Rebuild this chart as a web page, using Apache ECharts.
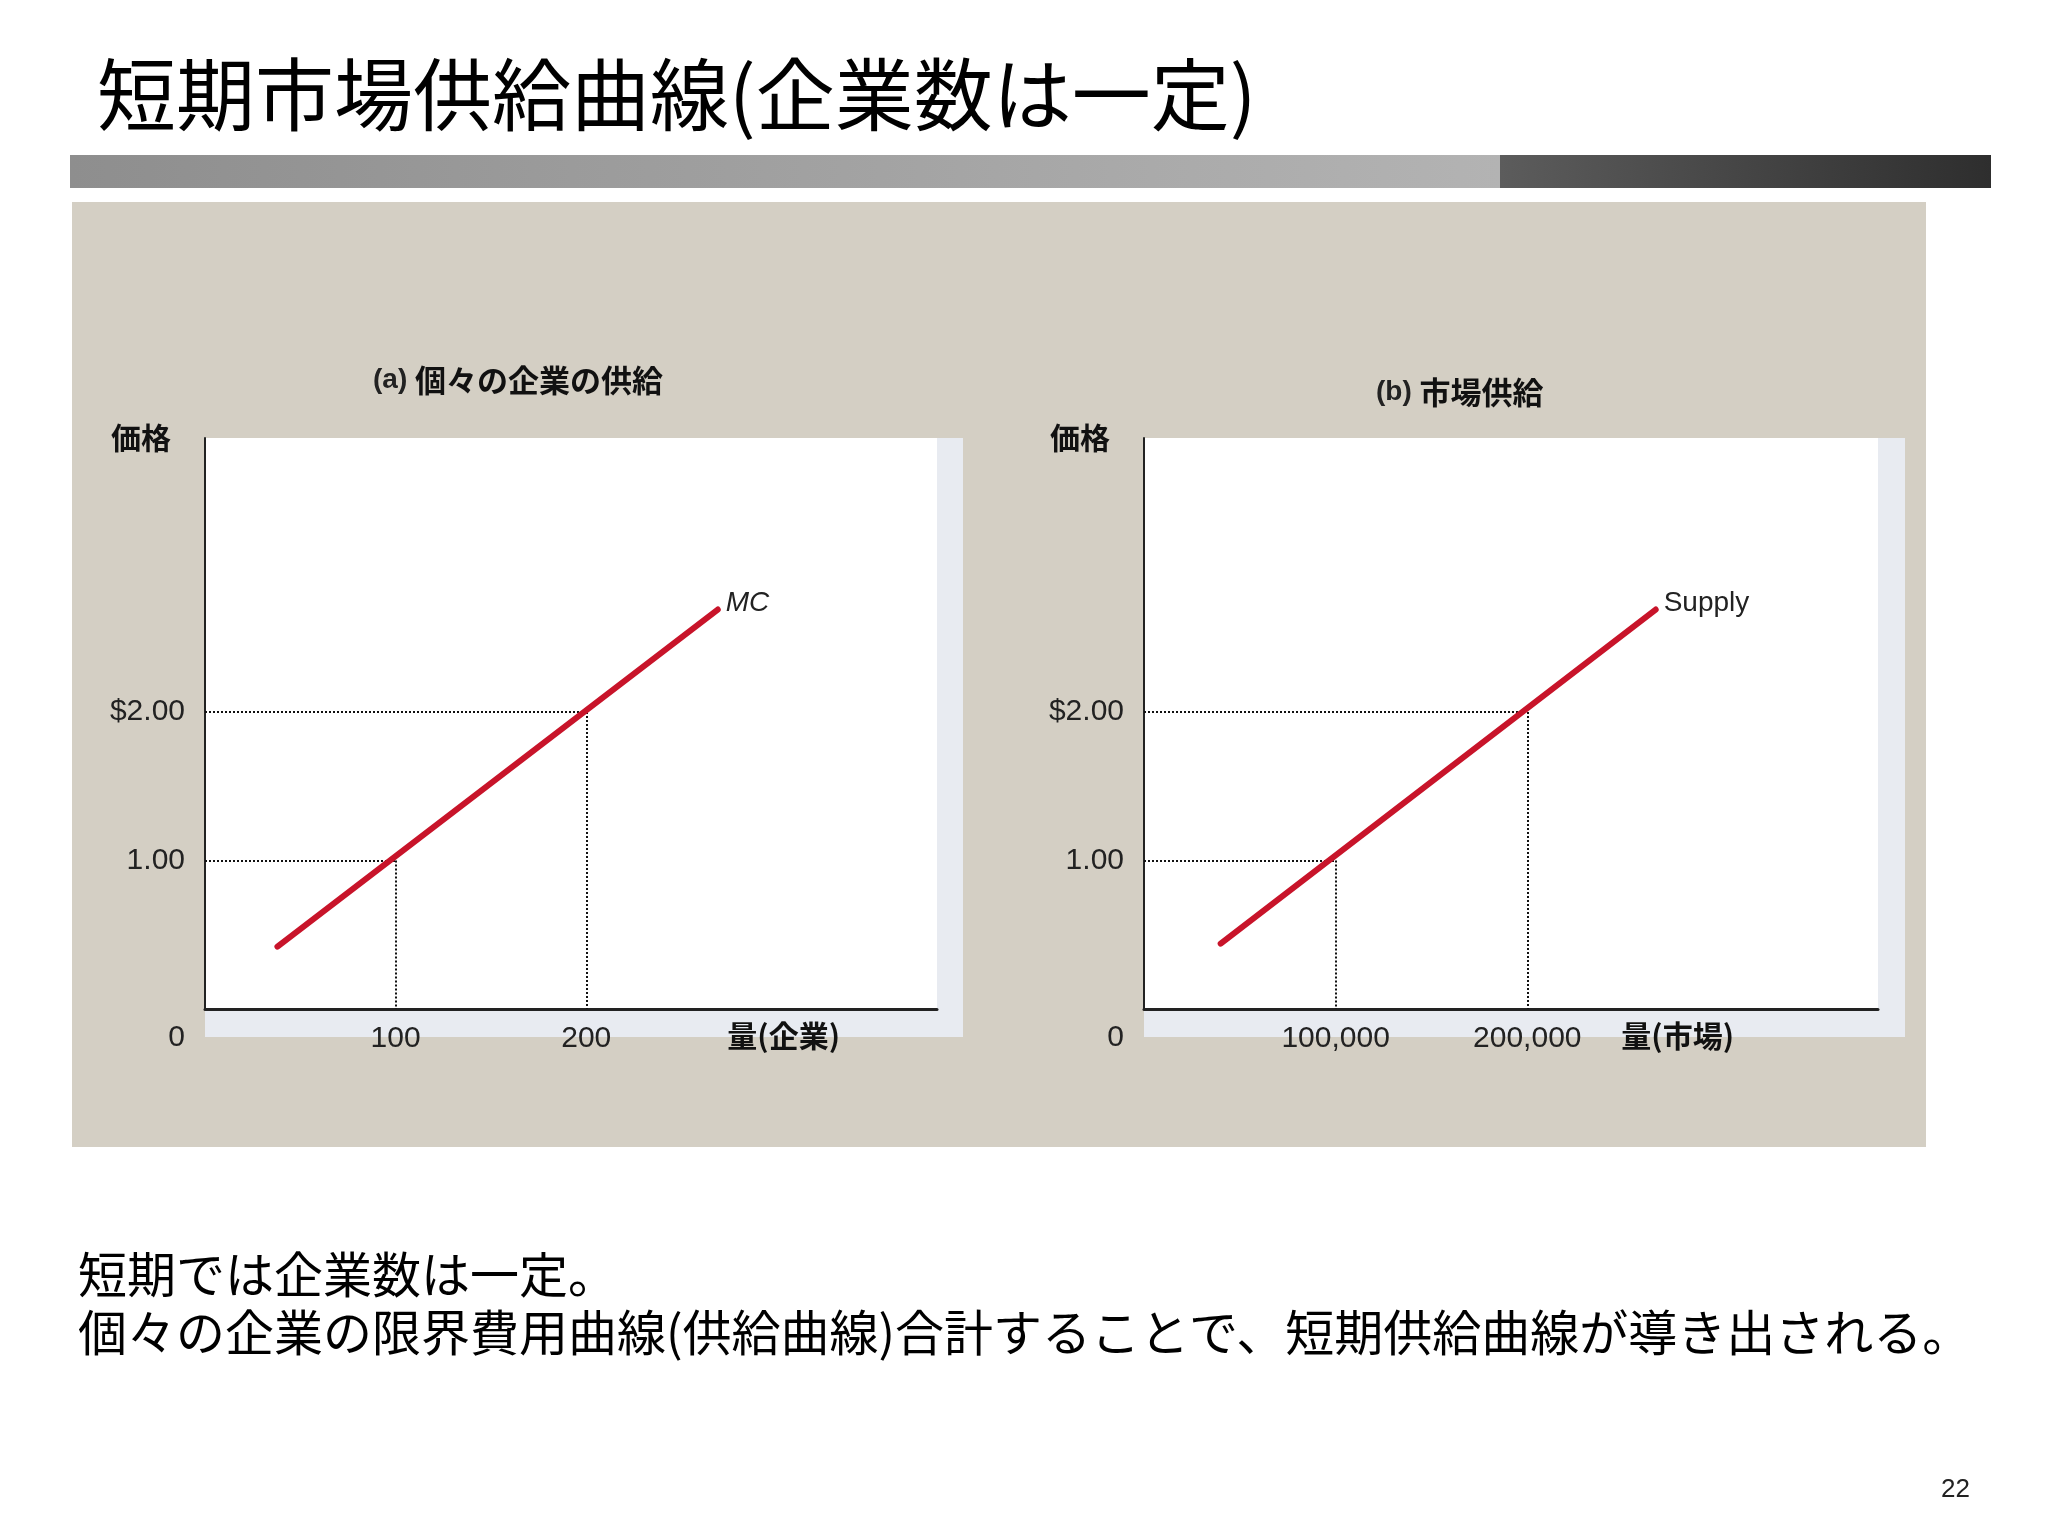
<!DOCTYPE html>
<html>
<head>
<meta charset="utf-8">
<script src="https://cdn.jsdelivr.net/npm/echarts@6/dist/echarts.min.js"></script>
<style>
  html, body { margin: 0; padding: 0; background: #fff; }
  #main { width: 2048px; height: 1536px; }
</style>
</head>
<body>
<div id="main"></div>
<script>
// (a) 個々の企業 — MC curve end points
var mcQty = [38, 269];
var mcPrice = [0.42, 2.69];
// (b) 市場 — supply curve end points
var supplyQty = [40000, 267000];
var supplyPrice = [0.44, 2.69];

// dotted guide points
var guidePrice = [1, 2];
var guideQtyA = [100, 200];
var guideQtyB = [100000, 200000];

// tick labels
var yTicks = [0, 1, 2];
var yTickLabels = ['0', '1.00', '$2.00'];
var xTickLabelsA = ['100', '200'];
var xTickLabelsB = ['100,000', '200,000'];

var jp = 'Noto Sans CJK JP';
var num = 'Liberation Sans';

function pairs(xs, ys) {
    return xs.map(function (x, i) { return [x, ys[i]]; });
}

function guideLines(qs) {
    var out = [];
    qs.forEach(function (q, i) {
        var p = guidePrice[i];
        out.push([{ coord: [0, p] }, { coord: [q, p] }]);
        out.push([{ coord: [q, p] }, { coord: [q, 0] }]);
    });
    return out;
}

function yAxisFor(gridIndex) {
    return {
        gridIndex: gridIndex,
        type: 'value',
        min: 0,
        max: 3.845,
        interval: 1,
        name: '価格',
        nameLocation: 'end',
        nameGap: 0,
        nameTextStyle: {
            fontFamily: jp, fontWeight: 'bold', fontSize: 30, color: '#111',
            align: 'right', verticalAlign: 'middle', padding: [6, 34, 0, 0]
        },
        axisLine: { show: true, lineStyle: { color: '#222', width: 2 } },
        axisTick: { show: false },
        splitLine: { show: false },
        axisLabel: {
            margin: 20,
            fontFamily: num, fontSize: 30, color: '#222',
            formatter: function (v) {
                var i = yTicks.indexOf(v);
                if (i < 0) return '';
                return i === 0 ? '{z|' + yTickLabels[0] + '}' : yTickLabels[i];
            },
            rich: { z: { fontFamily: num, fontSize: 30, color: '#222', padding: [58, 0, 0, 0] } }
        }
    };
}

function xAxisFor(gridIndex, max, step, qs, labels, name, gap) {
    return {
        gridIndex: gridIndex,
        type: 'value',
        min: 0,
        max: max,
        interval: step,
        name: name,
        nameLocation: 'end',
        nameGap: gap,
        nameTextStyle: {
            fontFamily: jp, fontWeight: 'bold', fontSize: 30, color: '#111',
            align: 'right', verticalAlign: 'top', padding: [12, 0, 0, 0]
        },
        axisLine: { show: true, onZero: false, lineStyle: { color: '#222', width: 3 } },
        axisTick: { show: false },
        splitLine: { show: false },
        axisLabel: {
            margin: 15,
            fontFamily: num, fontSize: 30, color: '#222',
            formatter: function (v) {
                var i = qs.indexOf(v);
                return i < 0 ? '' : labels[i];
            }
        }
    };
}

function curve(idx, data, label) {
    return {
        type: 'line',
        xAxisIndex: idx,
        yAxisIndex: idx,
        data: data,
        symbol: 'none',
        z: 5,
        lineStyle: { color: '#c8142a', width: 6, cap: 'round' },
        endLabel: {
            show: true,
            formatter: label,
            fontFamily: num,
            fontSize: 28,
            fontStyle: idx === 0 ? 'italic' : 'normal',
            color: '#222',
            offset: [0, -6]
        },
        animation: false
    };
}

function guides(idx, qs) {
    return {
        type: 'line',
        xAxisIndex: idx,
        yAxisIndex: idx,
        data: [],
        z: 2,
        markLine: {
            silent: true,
            symbol: 'none',
            label: { show: false },
            lineStyle: { color: '#111', type: 'dotted', width: 2 },
            data: guideLines(qs)
        },
        animation: false
    };
}

var chart = echarts.init(document.getElementById('main'));

var option = {
    backgroundColor: '#fff',
    animation: false,
    title: [{
        text: '短期市場供給曲線(企業数は一定)',
        left: 92,
        top: 50,
        textStyle: { fontFamily: jp, fontSize: 79, fontWeight: 'normal', color: '#000' }
    }, {
        text: '{r|(a) }{b|個々の企業の供給}',
        left: 368,
        top: 360,
        textStyle: {
            rich: {
                r: { fontFamily: num, fontSize: 28, color: '#222' },
                b: { fontFamily: jp, fontSize: 31, fontWeight: 'bold', color: '#111' }
            }
        }
    }, {
        text: '{r|(b) }{b|市場供給}',
        left: 1371,
        top: 372,
        textStyle: {
            rich: {
                r: { fontFamily: num, fontSize: 28, color: '#222' },
                b: { fontFamily: jp, fontSize: 31, fontWeight: 'bold', color: '#111' }
            }
        }
    }],
    graphic: [
        {
            type: 'rect', z: -100,
            shape: { x: 70, y: 155, width: 1430, height: 33 },
            style: { fill: new echarts.graphic.LinearGradient(0, 0, 1, 0, [
                { offset: 0, color: '#8e8e8e' }, { offset: 1, color: '#b3b3b3' }]) }
        },
        {
            type: 'rect', z: -100,
            shape: { x: 1500, y: 155, width: 491, height: 33 },
            style: { fill: new echarts.graphic.LinearGradient(0, 0, 1, 0, [
                { offset: 0, color: '#5c5c5c' }, { offset: 1, color: '#2e2e2e' }]) }
        },
        {
            type: 'rect', z: -100,
            shape: { x: 72, y: 202, width: 1854, height: 945 },
            style: { fill: '#d4cfc4' }
        },
        {
            type: 'rect', z: -99,
            shape: { x: 205, y: 438, width: 758, height: 599 },
            style: { fill: '#e8ebf1' }
        },
        {
            type: 'rect', z: -99,
            shape: { x: 1144, y: 438, width: 761, height: 599 },
            style: { fill: '#e8ebf1' }
        },
        {
            type: 'text', left: 78, top: 1250,
            style: { text: '短期では企業数は一定。', font: '49px "Noto Sans CJK JP"', fill: '#000' }
        },
        {
            type: 'text', left: 78, top: 1308,
            style: { text: '個々の企業の限界費用曲線(供給曲線)合計することで、短期供給曲線が導き出される。',
                font: '49px "Noto Sans CJK JP"', fill: '#000' }
        },
        {
            type: 'text', left: 1941, top: 1477,
            style: { text: '22', font: '26px "Liberation Sans"', fill: '#222' }
        }
    ],
    grid: [
        { left: 205, top: 438, width: 732, height: 571, show: true, backgroundColor: '#fff', borderWidth: 0 },
        { left: 1144, top: 438, width: 734, height: 571, show: true, backgroundColor: '#fff', borderWidth: 0 }
    ],
    xAxis: [
        xAxisFor(0, 384, 100, guideQtyA, xTickLabelsA, '量(企業)', -97),
        xAxisFor(1, 383000, 100000, guideQtyB, xTickLabelsB, '量(市場)', -144)
    ],
    yAxis: [yAxisFor(0), yAxisFor(1)],
    series: [
        guides(0, guideQtyA),
        guides(1, guideQtyB),
        curve(0, pairs(mcQty, mcPrice), 'MC'),
        curve(1, pairs(supplyQty, supplyPrice), 'Supply')
    ]
};

chart.setOption(option);
</script>
</body>
</html>
